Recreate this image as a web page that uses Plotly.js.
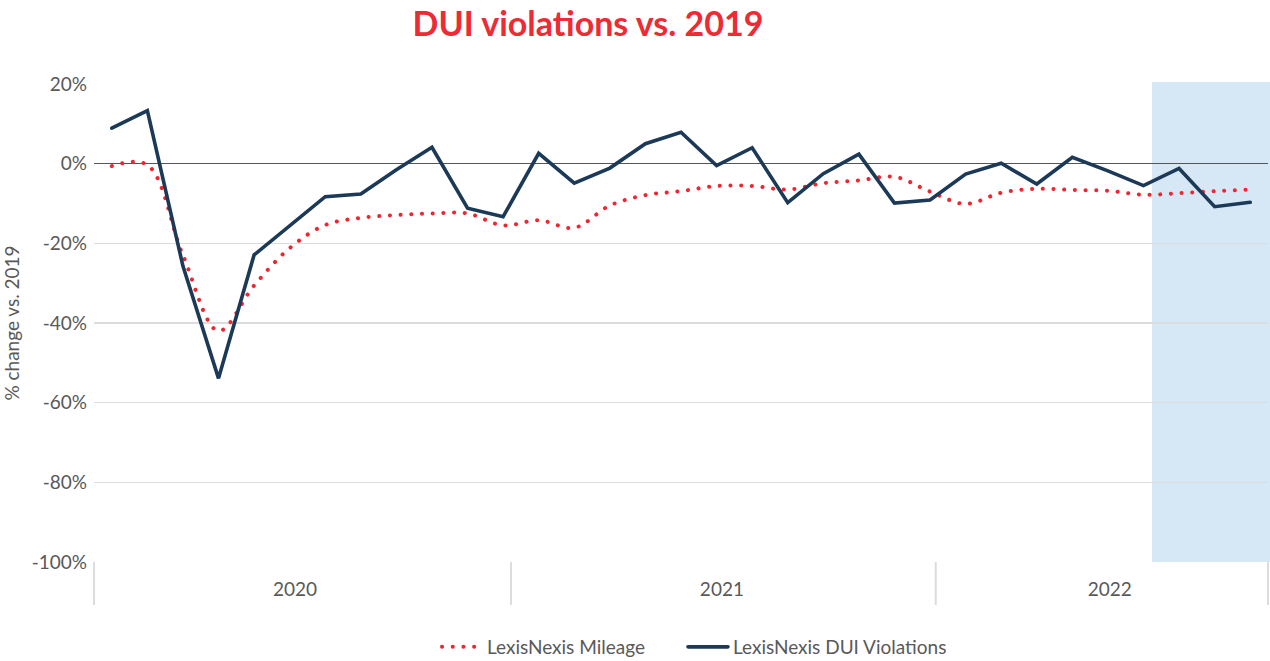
<!DOCTYPE html>
<html>
<head>
<meta charset="utf-8">
<script src="https://cdn.plot.ly/plotly-3.0.1.min.js"></script>
<style>
  html, body { margin: 0; padding: 0; background: #fff; }
  #chart { width: 1270px; height: 661px; }
  path.js-line { stroke-linecap: round; }
</style>
</head>
<body>
<div id="chart"></div>
<script>
// Monthly periods, Jan 2020 – Sep 2022
const months = [
  '2020-01','2020-02','2020-03','2020-04','2020-05','2020-06','2020-07','2020-08','2020-09','2020-10','2020-11','2020-12',
  '2021-01','2021-02','2021-03','2021-04','2021-05','2021-06','2021-07','2021-08','2021-09','2021-10','2021-11','2021-12',
  '2022-01','2022-02','2022-03','2022-04','2022-05','2022-06','2022-07','2022-08','2022-09'
];
// % change vs. 2019
const mileage = [
  -0.6, -0.3, -23, -42, -30.6, -21.2, -15.4, -13.6, -12.9, -12.5, -12.5, -15.5,
  -14.2, -16.1, -10.5, -7.9, -6.9, -5.6, -5.6, -6.5, -4.9, -4.2, -3.3, -7.0,
  -10.1, -7.3, -6.3, -6.6, -6.8, -7.8, -7.4, -6.9, -6.5
];
const duiViolations = [
  8.9, 13.3, -25.7, -53.9, -22.9, -15.6, -8.3, -7.6, -1.5, 4.1, -11.2, -13.3,
  2.6, -4.9, -1.1, 5.0, 7.9, -0.5, 4.0, -9.8, -2.5, 2.4, -9.9, -9.1,
  -2.6, 0.1, -5.1, 1.6, -1.8, -5.5, -1.2, -10.8, -9.7
];
const seriesNames = ['LexisNexis Mileage', 'LexisNexis DUI Violations'];
const years = ['2020', '2021', '2022'];
const yTicks = [20, 0, -20, -40, -60, -80, -100];
const yTickLabels = ['20%', '0%', '-20%', '-40%', '-60%', '-80%', '-100%'];

const xIdx = months.map((m, i) => i);
const xMin = -0.5, xMax = months.length - 0.5;
const toPaper = v => (v - xMin) / (xMax - xMin);

// year label positions: mean index of each year's months (small offset to match reference)
const yearCenters = years.map(y => {
  const idx = months.map((m, i) => m.startsWith(y) ? i : null).filter(v => v !== null);
  return idx.reduce((a, b) => a + b, 0) / idx.length;
});
const yearTickPos = [yearCenters[0] - 0.35, yearCenters[1] - 0.35, yearCenters[2] + 0.05];

// divider positions (year boundaries as drawn in the reference)
const dividerPos = [xMin, 11.22, 23.16, xMax];

const shapes = dividerPos.map(d => ({
  type: 'line', xref: 'paper', yref: 'paper',
  x0: toPaper(d), x1: toPaper(d), y0: 0, y1: -0.09,
  line: { color: '#dcdcdc', width: 2 }
}));
// shaded recent period
shapes.push({
  type: 'rect', xref: 'paper', yref: 'paper', layer: 'below',
  x0: toPaper(29.24), x1: 1.0025, y0: 0, y1: 1.004,
  fillcolor: '#d6e8f6', line: { width: 0 }
});

const traces = [
  {
    x: xIdx, y: mileage, name: seriesNames[0], type: 'scatter', mode: 'lines',
    line: { color: '#ef2630', width: 4, dash: '0.1px,10.6px', shape: 'spline', smoothing: 1 },
    hoverinfo: 'skip', legend: 'legend'
  },
  {
    x: xIdx, y: duiViolations, name: seriesNames[1], type: 'scatter', mode: 'lines',
    line: { color: '#1c3a58', width: 3.6 },
    hoverinfo: 'skip', legend: 'legend2'
  }
];

const font = 'Lato, "Open Sans", sans-serif';
const legendBase = {
  orientation: 'h', xanchor: 'left',
  yref: 'container', y: 1 - 647 / 661, yanchor: 'middle',
  font: { family: font, size: 19, color: '#595959' },
  itemwidth: 40, bgcolor: 'rgba(0,0,0,0)'
};
const layout = {
  width: 1270, height: 661,
  margin: { l: 94, r: 2, t: 84, b: 99, autoexpand: false },
  paper_bgcolor: '#fff', plot_bgcolor: 'rgba(0,0,0,0)',
  font: { family: font, size: 19, color: '#595959' },
  title: {
    text: '<b>DUI violations vs. 2019</b>',
    font: { family: font, size: 34, color: '#ee2a34' },
    x: 0.463, xref: 'container', xanchor: 'center',
    y: 1 - 24 / 661, yref: 'container', yanchor: 'middle'
  },
  xaxis: {
    range: [xMin, xMax],
    tickvals: yearTickPos, ticktext: years,
    ticks: '', showgrid: false, zeroline: false, showline: false,
    ticklabelstandoff: 14,
    tickfont: { family: font, size: 19, color: '#595959' },
    fixedrange: true
  },
  yaxis: {
    range: [-100, 20],
    tickvals: yTicks, ticktext: yTickLabels,
    ticks: '', showgrid: true, gridcolor: '#dcdcdc', gridwidth: 1.2,
    zeroline: true, zerolinecolor: '#555', zerolinewidth: 1.2,
    showline: false,
    ticklabelstandoff: 6,
    tickfont: { family: font, size: 19, color: '#595959' },
    title: { text: '% change vs. 2019', font: { family: font, size: 19, color: '#595959' }, standoff: 9 },
    fixedrange: true
  },
  showlegend: true,
  legend: Object.assign({}, legendBase, { x: (437 - 94) / 1174 }),
  legend2: Object.assign({}, legendBase, { x: (683 - 94) / 1174 }),
  shapes: shapes
};

Plotly.newPlot('chart', traces, layout, { displayModeBar: false, staticPlot: true });
</script>
</body>
</html>
